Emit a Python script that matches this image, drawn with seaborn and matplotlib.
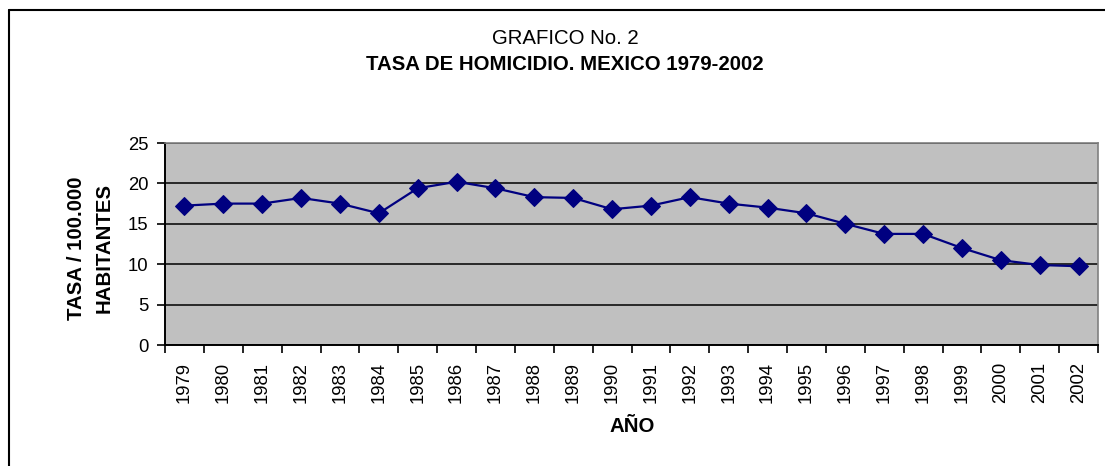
import matplotlib
matplotlib.use("Agg")
import matplotlib.pyplot as plt
import matplotlib.lines as mlines
import seaborn as sns
import pandas as pd
import numpy as np

years = [str(y) for y in range(1979, 2003)]
tasa = [17.25, 17.5, 17.5, 18.2, 17.5, 16.3, 19.4, 20.2, 19.4, 18.3, 18.2, 16.8,
        17.25, 18.3, 17.5, 17.0, 16.3, 15.0, 13.75, 13.75, 12.0, 10.5, 9.9, 9.75]
yticks = [0, 5, 10, 15, 20, 25]

sns.set_theme(style="white")
plt.rcParams['font.family'] = ['Liberation Sans', 'DejaVu Sans']
plt.rcParams['text.color'] = 'black'
plt.rcParams['axes.labelcolor'] = 'black'
plt.rcParams['xtick.color'] = 'black'
plt.rcParams['ytick.color'] = 'black'

W, H = 1105, 466
fig = plt.figure(figsize=(W / 100, H / 100), dpi=100)
ax = fig.add_axes([165 / W, 1 - 345 / H, (1098 - 165) / W, (345 - 143) / H])

df = pd.DataFrame({"year": years, "tasa": tasa})
sns.lineplot(data=df, x="year", y="tasa", ax=ax, color="#000080", linewidth=1.6,
             marker="D", markersize=9, markeredgecolor="#000080", sort=False)

ax.set_facecolor("#C0C0C0")
ax.set_ylim(0, 25)
ax.set_yticks(yticks)
ax.yaxis.grid(True, color="black", linewidth=1.1)
ax.set_axisbelow(True)
ax.set_xlim(-0.5, len(years) - 0.5)
ax.set_xticks(range(len(years)))
ax.set_xticklabels(years, rotation=90, va="top", ha="center")
ax.set_xticks(np.arange(-0.5, len(years), 1.0), minor=True)
ax.tick_params(axis="x", which="major", length=0, pad=12, labelsize=13.3, labelcolor="black")
ax.tick_params(axis="x", which="minor", length=6, width=1.2, color="black", direction="out", bottom=True)
ax.tick_params(axis="y", length=6, width=1.2, color="black", direction="out", left=True,
               labelsize=13.3, pad=6, labelcolor="black")

for s in ["left", "bottom"]:
    ax.spines[s].set_color("black")
    ax.spines[s].set_linewidth(1.4)
for s in ["top", "right"]:
    ax.spines[s].set_color("#808080")
    ax.spines[s].set_linewidth(1.2)

ax.set_xlabel("")
ax.set_ylabel("")

fs = 14.7
fig.text(565 / W, 1 - 39 / H, "GRAFICO No. 2", ha="center", va="center", fontsize=fs, color="black")
fig.text(565 / W, 1 - 64 / H, "TASA DE HOMICIDIO. MEXICO 1979-2002", ha="center", va="center",
         fontsize=fs, fontweight="bold", color="black")
fig.text(77 / W, 1 - 248 / H, "TASA / 100.000", ha="center", va="center", rotation=90,
         fontsize=fs, fontweight="bold", color="black")
fig.text(104 / W, 1 - 248 / H, "HABITANTES", ha="center", va="center", rotation=90,
         fontsize=fs, fontweight="bold", color="black")
fig.text(632 / W, 1 - 427 / H, "AÑO", ha="center", va="center", fontsize=fs, fontweight="bold",
         color="black")

# outer chart border (left and top visible)
fig.add_artist(mlines.Line2D([9 / W, 9 / W], [0, 1 - 10 / H], color="black", linewidth=1.5,
                             transform=fig.transFigure))
fig.add_artist(mlines.Line2D([9 / W, 1], [1 - 10 / H, 1 - 10 / H], color="black", linewidth=1.5,
                             transform=fig.transFigure))

fig.savefig("out.png", dpi=100)
